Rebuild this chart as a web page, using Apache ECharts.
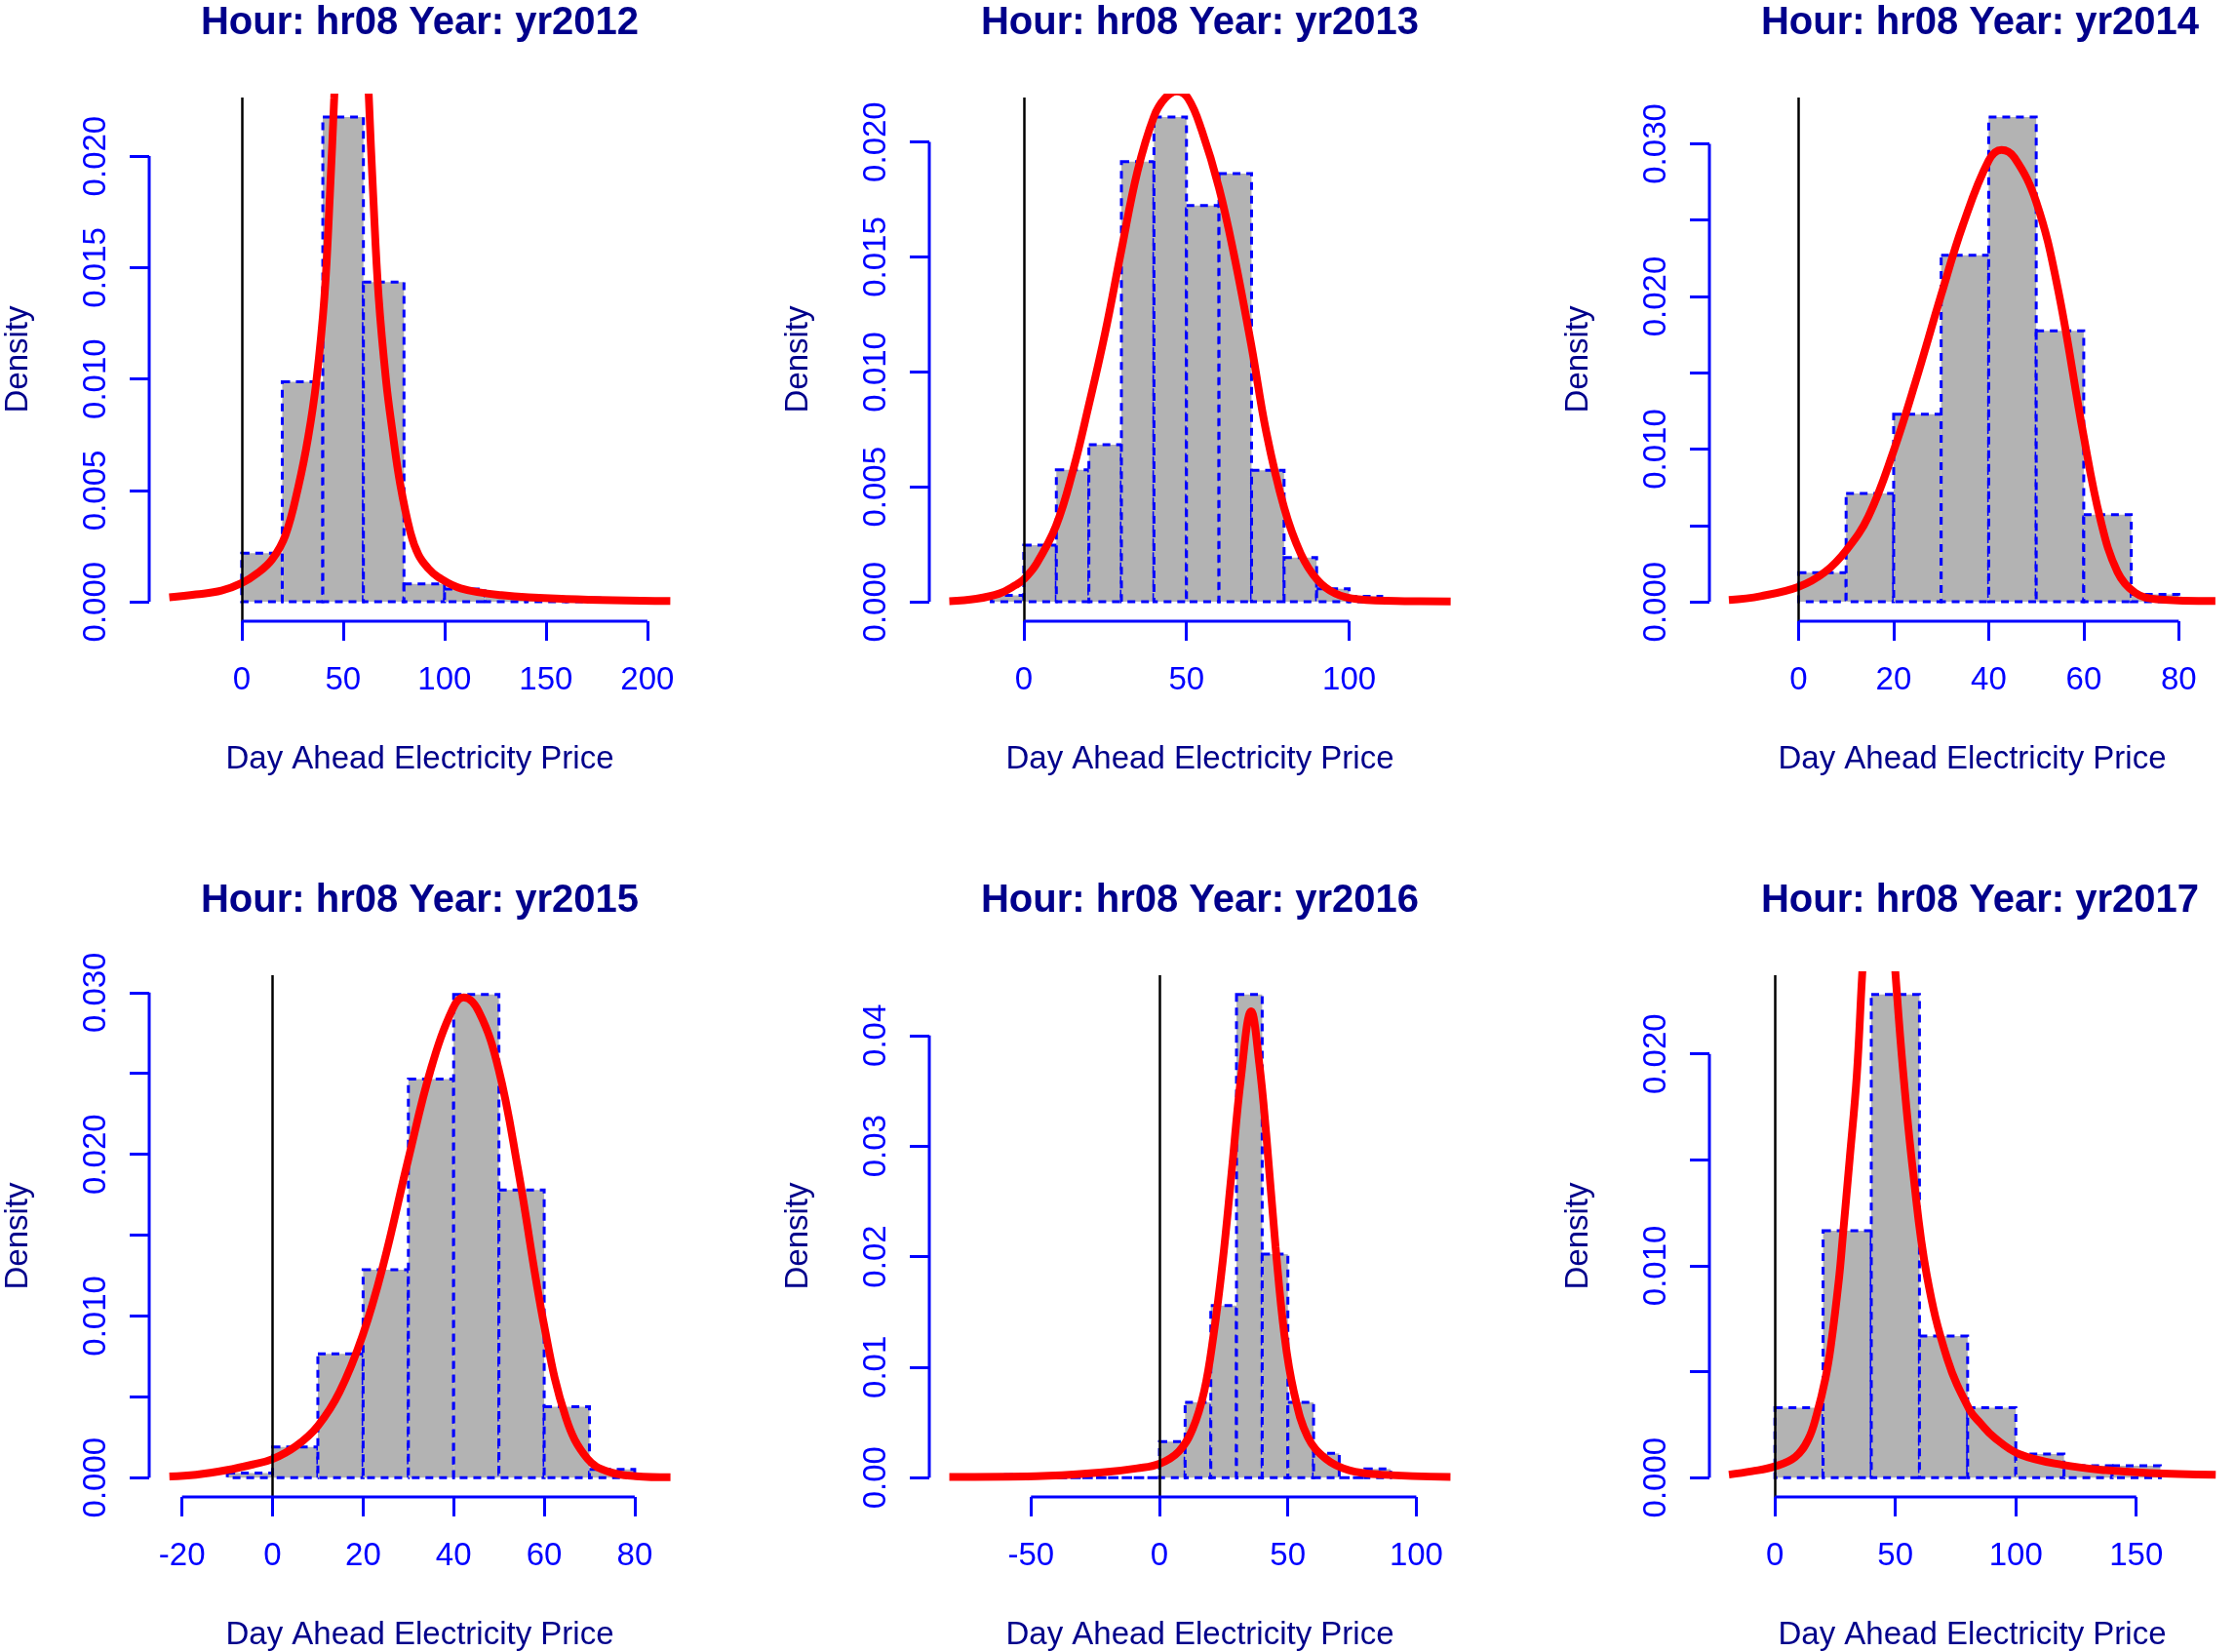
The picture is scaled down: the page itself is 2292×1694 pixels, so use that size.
<!DOCTYPE html>
<html>
<head>
<meta charset="utf-8">
<script src="https://cdn.jsdelivr.net/npm/echarts@6/dist/echarts.min.js"></script>
<style>
html,body{margin:0;padding:0;background:#ffffff;}
#chart{width:2292px;height:1694px;}
</style>
</head>
<body>
<div id="chart"></div>
<script>
// ---------------- data ----------------
const titles = ['Hour: hr08 Year: yr2012','Hour: hr08 Year: yr2013','Hour: hr08 Year: yr2014',
                'Hour: hr08 Year: yr2015','Hour: hr08 Year: yr2016','Hour: hr08 Year: yr2017'];
const xAxisTitle = 'Day Ahead Electricity Price';
const yAxisTitle = 'Density';

// histogram bins: first break and bin width per panel
const binStarts = [0, -10, 0, -10, -60, 0];
const binWidths = [20, 10, 10, 10, 10, 20];

// histogram densities
const dens2012 = [0.00218, 0.00987, 0.02176, 0.01435, 0.0008, 0.00057, 0.0003, 0.00017, 0.00017];
const dens2013 = [0.00028, 0.00247, 0.00574, 0.00683, 0.01915, 0.02109, 0.01724, 0.01862, 0.00572, 0.00192, 0.00057, 0.00024];
const dens2014 = [0.00191, 0.0071, 0.01229, 0.0227, 0.03176, 0.01775, 0.00571, 0.00049];
const dens2015 = [0.00028, 0.00189, 0.00765, 0.01286, 0.02465, 0.02988, 0.01779, 0.00438, 0.00051];
const dens2016 = [0.00027, 0, 0, 0, 0, 0, 0.00327, 0.0068, 0.01557, 0.04371, 0.02022, 0.0068, 0.00219, 0, 0.00078];
const dens2017 = [0.0033, 0.01165, 0.0228, 0.00668, 0.0033, 0.00111, 0.00056, 0.00056];

// fitted density curves [price, density]
const curve2012 = [[-35.7,0.0002],[-22.5,0.00033],[-10,0.0005],[0,0.00084],[8,0.0013],[15,0.0019],[21.6,0.003],
  [28,0.0052],[32.8,0.0074],[36.8,0.0099],[40.8,0.0137],[43.5,0.0183],[45.6,0.0226],[48,0.028],[51,0.033],[54.1,0.035],
  [57.3,0.033],[60.3,0.028],[62.7,0.0226],[64.8,0.0183],[67.5,0.0137],[71.2,0.0099],[74.4,0.0076],[78.1,0.0053],
  [83.2,0.0031],[87.2,0.0021],[92,0.0015],[97,0.0011],[108,0.0006],[128,0.0003],[160,0.00013],[211.3,0.00004]];
const curve2013 = [[-22.9,0.00003],[-14.6,0.00013],[-7.5,0.00036],[-2.5,0.00073],[0,0.00098],[3.8,0.00163],[9.9,0.0033],
  [15.1,0.0057],[19.9,0.0085],[25,0.0117],[30,0.0153],[34.9,0.0187],[40,0.0211],[43.4,0.0219],[47,0.0222],[50.5,0.0219],
  [54.7,0.0205],[60,0.018],[64.6,0.0151],[70,0.0111],[74.5,0.0074],[80,0.0041],[85.1,0.0021],[90.1,0.00098],
  [95.8,0.00036],[102.8,0.00011],[117,0.00003],[131.2,0.00002]];
const curve2014 = [[-14.67,0.00012],[-8,0.00037],[0,0.00098],[5.6,0.00196],[10.1,0.0034],[14.7,0.0056],[19.9,0.0098],
  [24.6,0.0144],[30,0.0201],[34.6,0.0247],[40,0.0289],[42.7,0.0296],[45.4,0.0291],[50,0.0262],[54.5,0.0206],
  [59.9,0.011],[63.5,0.0054],[67.1,0.00196],[70.8,0.0006],[75.3,0.00017],[87.7,0.00005]];
const curve2015 = [[-22.8,0.00007],[-16.9,0.00018],[-10.2,0.00046],[-4.4,0.00081],[0,0.00115],[5.2,0.00196],[10,0.0032],
  [14.8,0.0053],[19.9,0.0088],[24.4,0.0131],[29.9,0.0196],[35,0.0253],[39.8,0.029],[42.2,0.0297],[45.6,0.0288],
  [49.9,0.0253],[54.2,0.0191],[60,0.0094],[64.8,0.0037],[69.6,0.00115],[74.4,0.00035],[80.2,0.00009],[87.9,0.00002]];
const curve2016 = [[-81.8,0.00007],[-48,0.00013],[-21.1,0.0005],[-8.6,0.00084],[0,0.00125],[7.5,0.00236],[12.9,0.0044],
  [17.4,0.0078],[21,0.0128],[24.6,0.0195],[28.1,0.0276],[31.7,0.0361],[35.7,0.0422],[38.9,0.0374],[41.6,0.031],
  [45.2,0.0209],[48.7,0.0128],[52.3,0.0078],[57.7,0.0037],[64.9,0.00168],[73.8,0.00067],[86.4,0.00027],[113.3,0.00007]];
const curve2017 = [[-19.1,0.00014],[-9.5,0.0003],[0,0.00053],[8.4,0.00097],[13.8,0.0018],[17.4,0.003],[21,0.0047],
  [23.2,0.0062],[26.6,0.0094],[28.2,0.0114],[31,0.015],[34,0.019],[36.2,0.0237],[38.5,0.028],[43,0.031],[47.5,0.028],
  [50.1,0.0237],[53.2,0.0192],[57.4,0.01438],[63,0.00958],[71.6,0.00559],[80.8,0.0032],[85.4,0.00256],[91,0.0019],
  [101.6,0.0011],[119.5,0.0006],[137.5,0.00035],[155.4,0.00022],[183,0.00013]];

// x axis ticks and plotting ranges
const xTicks2012 = [0, 50, 100, 150, 200];
const xTicks2013 = [0, 50, 100];
const xTicks2014 = [0, 20, 40, 60, 80];
const xTicks2015 = [-20, 0, 20, 40, 60, 80];
const xTicks2016 = [-50, 0, 50, 100];
const xTicks2017 = [0, 50, 100, 150];
const xMins = [-45.6, -29.05, -18.77, -27.26, -89.6, -27.2];
const xMaxs = [221.2, 137.3, 91.83, 92.3, 121.1, 191.0];

// y axis ticks and labelled ticks
const yTicks2012 = [0, 0.005, 0.010, 0.015, 0.020];
const yTicks2013 = [0, 0.005, 0.010, 0.015, 0.020];
const yTicks2014 = [0, 0.005, 0.010, 0.015, 0.020, 0.025, 0.030];
const yTicks2015 = [0, 0.005, 0.010, 0.015, 0.020, 0.025, 0.030];
const yTicks2016 = [0, 0.01, 0.02, 0.03, 0.04];
const yTicks2017 = [0, 0.005, 0.010, 0.015, 0.020];
const yLabels2012 = ['0.000', '0.005', '0.010', '0.015', '0.020'];
const yLabels2013 = ['0.000', '0.005', '0.010', '0.015', '0.020'];
const yLabels2014 = ['0.000', '', '0.010', '', '0.020', '', '0.030'];
const yLabels2015 = ['0.000', '', '0.010', '', '0.020', '', '0.030'];
const yLabels2016 = ['0.00', '0.01', '0.02', '0.03', '0.04'];
const yLabels2017 = ['0.000', '', '0.010', '', '0.020'];

// ---------------- build chart ----------------
const densities = [dens2012, dens2013, dens2014, dens2015, dens2016, dens2017];
const curves = [curve2012, curve2013, curve2014, curve2015, curve2016, curve2017];
const xTicksAll = [xTicks2012, xTicks2013, xTicks2014, xTicks2015, xTicks2016, xTicks2017];
const yTicksAll = [yTicks2012, yTicks2013, yTicks2014, yTicks2015, yTicks2016, yTicks2017];
const yLabelsAll = [yLabels2012, yLabels2013, yLabels2014, yLabels2015, yLabels2016, yLabels2017];

const FONT = '"Liberation Sans", Arial, Helvetica, sans-serif';
const BLUE = '#0000FF';
const NAVY = '#00008B';
const PLOT_W = 555, PLOT_H = 537;

const grids = [], xAxes = [], yAxes = [], series = [], titleList = [];

for (let i = 0; i < 6; i++) {
  const r = Math.floor(i / 3), c = i % 3;
  const left = 153 + 800 * c, top = 100 + 900 * r;
  grids.push({left: left, top: top, width: PLOT_W, height: PLOT_H, containLabel: false});

  const dens = densities[i];
  const hmax = Math.max.apply(null, dens);
  const yMin = -0.04 * hmax, yMax = 1.04 * hmax;
  const xT = xTicksAll[i], yT = yTicksAll[i], yL = yLabelsAll[i];
  const yLabVals = yT.filter((v, k) => yL[k] !== '');

  titleList.push({
    text: titles[i], left: left + PLOT_W / 2, top: top - 96, textAlign: 'center', padding: 0,
    textStyle: {fontFamily: FONT, fontSize: 40, fontWeight: 'bold', color: NAVY}
  });

  xAxes.push({
    gridIndex: i, type: 'value', min: xMins[i], max: xMaxs[i], position: 'bottom',
    axisLine: {show: false, onZero: false}, splitLine: {show: false},
    axisTick: {show: true, customValues: xT, length: 20, inside: false, lineStyle: {color: BLUE, width: 3}},
    axisLabel: {show: true, customValues: xT, color: BLUE, fontSize: 33, fontFamily: FONT, margin: 44,
                formatter: v => String(v)},
    name: xAxisTitle, nameLocation: 'middle', nameGap: 125,
    nameTextStyle: {color: NAVY, fontSize: 33, fontFamily: FONT}
  });
  yAxes.push({
    gridIndex: i, type: 'value', min: yMin, max: yMax, position: 'left',
    axisLine: {show: false, onZero: false}, splitLine: {show: false},
    axisTick: {show: true, customValues: yT, length: 20, inside: false, lineStyle: {color: BLUE, width: 3}},
    axisLabel: {show: true, customValues: yLabVals, color: BLUE, fontSize: 33, fontFamily: FONT, margin: 38, rotate: 90,
                formatter: v => { const k = yT.findIndex(t => Math.abs(t - v) < 1e-9); return k >= 0 ? yL[k] : ''; }},
    name: yAxisTitle, nameLocation: 'middle', nameGap: 118, nameRotate: 90,
    nameTextStyle: {color: NAVY, fontSize: 33, fontFamily: FONT}
  });

  // histogram bars
  const bins = dens.map((d, k) => [binStarts[i] + k * binWidths[i], binStarts[i] + (k + 1) * binWidths[i], d]);
  series.push({
    type: 'custom', xAxisIndex: i, yAxisIndex: i, silent: true, z: 2,
    data: bins,
    renderItem: function (params, api) {
      const p0 = api.coord([api.value(0), 0]);
      const p1 = api.coord([api.value(1), api.value(2)]);
      return {
        type: 'rect',
        shape: {x: p0[0], y: p1[1], width: p1[0] - p0[0], height: p0[1] - p1[1]},
        style: {fill: '#B3B3B3', stroke: BLUE, lineWidth: 3, lineDash: [8, 6]}
      };
    },
    markLine: {
      silent: true, symbol: ['none', 'none'], label: {show: false}, animation: false,
      lineStyle: {color: '#000000', width: 2.5, type: 'solid'},
      data: [{xAxis: 0}]
    }
  });

  // fitted density curve
  series.push({
    type: 'line', xAxisIndex: i, yAxisIndex: i, data: curves[i], showSymbol: false, silent: true,
    smooth: 0.4, clip: true, z: 4,
    lineStyle: {color: '#FF0000', width: 8}
  });

  // R-style axis lines spanning first to last tick
  series.push({
    type: 'line', xAxisIndex: i, yAxisIndex: i, showSymbol: false, silent: true, clip: false, z: 5,
    data: [[xT[0], yMin], [xT[xT.length - 1], yMin]],
    lineStyle: {color: BLUE, width: 3}
  });
  series.push({
    type: 'line', xAxisIndex: i, yAxisIndex: i, showSymbol: false, silent: true, clip: false, z: 5,
    data: [[xMins[i], yT[0]], [xMins[i], yT[yT.length - 1]]],
    lineStyle: {color: BLUE, width: 3}
  });
}

const chart = echarts.init(document.getElementById('chart'), null, {renderer: 'canvas'});
chart.setOption({
  backgroundColor: '#ffffff',
  animation: false,
  title: titleList,
  grid: grids,
  xAxis: xAxes,
  yAxis: yAxes,
  series: series
});
</script>
</body>
</html>
